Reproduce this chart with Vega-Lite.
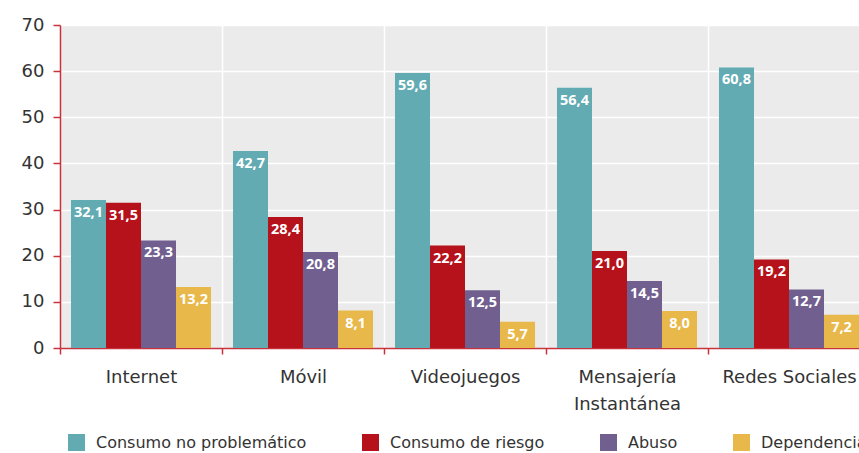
{
  "$schema": "https://vega.github.io/schema/vega-lite/v6.json",
  "autosize": "none",
  "width": 810,
  "height": 323,
  "padding": {"left": 60, "top": 25, "right": 0, "bottom": 105},
  "background": "#ffffff",
  "config": {
    "font": "DejaVu Sans",
    "view": {"fill": "#EAEBEA", "stroke": null},
    "locale": {"number": {"decimal": ",", "thousands": ".", "grouping": [3], "currency": ["", " €"]}}
  },
  "data": {
    "values": [
      {"cat": "Internet", "serie": "Consumo no problemático", "v": 32.1},
      {"cat": "Internet", "serie": "Consumo de riesgo", "v": 31.5},
      {"cat": "Internet", "serie": "Abuso", "v": 23.3},
      {"cat": "Internet", "serie": "Dependencia", "v": 13.2},
      {"cat": "Móvil", "serie": "Consumo no problemático", "v": 42.7},
      {"cat": "Móvil", "serie": "Consumo de riesgo", "v": 28.4},
      {"cat": "Móvil", "serie": "Abuso", "v": 20.8},
      {"cat": "Móvil", "serie": "Dependencia", "v": 8.1},
      {"cat": "Videojuegos", "serie": "Consumo no problemático", "v": 59.6},
      {"cat": "Videojuegos", "serie": "Consumo de riesgo", "v": 22.2},
      {"cat": "Videojuegos", "serie": "Abuso", "v": 12.5},
      {"cat": "Videojuegos", "serie": "Dependencia", "v": 5.7},
      {"cat": "Mensajería Instantánea", "serie": "Consumo no problemático", "v": 56.4},
      {"cat": "Mensajería Instantánea", "serie": "Consumo de riesgo", "v": 21.0},
      {"cat": "Mensajería Instantánea", "serie": "Abuso", "v": 14.5},
      {"cat": "Mensajería Instantánea", "serie": "Dependencia", "v": 8.0},
      {"cat": "Redes Sociales", "serie": "Consumo no problemático", "v": 60.8},
      {"cat": "Redes Sociales", "serie": "Consumo de riesgo", "v": 19.2},
      {"cat": "Redes Sociales", "serie": "Abuso", "v": 12.7},
      {"cat": "Redes Sociales", "serie": "Dependencia", "v": 7.2}
    ]
  },
  "encoding": {
    "x": {
      "field": "cat", "type": "nominal", "sort": null, "title": null,
      "scale": {"paddingInner": 0, "paddingOuter": 0},
      "axis": {
        "labelAngle": 0, "domainColor": "#C8323C", "domainWidth": 1.5,
        "tickColor": "#C8323C", "tickWidth": 1.5, "tickSize": 6, "tickBand": "extent",
        "grid": true, "gridColor": "#ffffff", "gridWidth": 1.5,
        "labelFontSize": 18, "labelColor": "#333333", "labelPadding": 14,
        "labelLineHeight": 27, "labelLimit": 0,
        "labelExpr": "datum.value == 'Mensajería Instantánea' ? ['Mensajería', 'Instantánea'] : datum.value"
      }
    },
    "xOffset": {
      "field": "serie", "type": "nominal", "sort": ["Consumo no problemático", "Consumo de riesgo", "Abuso", "Dependencia"],
      "scale": {"paddingInner": 0, "paddingOuter": 0.314}
    },
    "y": {
      "field": "v", "type": "quantitative", "title": null,
      "scale": {"domain": [0, 70]},
      "axis": {
        "values": [0, 10, 20, 30, 40, 50, 60, 70],
        "domainColor": "#C8323C", "domainWidth": 1.5,
        "tickColor": "#C8323C", "tickWidth": 1.5, "tickSize": 7,
        "grid": true, "gridColor": "#ffffff", "gridWidth": 1.5,
        "labelFontSize": 18, "labelColor": "#333333", "labelPadding": 9
      }
    }
  },
  "layer": [
    {
      "mark": {"type": "bar"},
      "encoding": {
        "color": {
          "field": "serie", "type": "nominal",
          "sort": ["Consumo no problemático", "Consumo de riesgo", "Abuso", "Dependencia"],
          "scale": {"domain": ["Consumo no problemático", "Consumo de riesgo", "Abuso", "Dependencia"], "range": ["#62ABB3", "#B5121B", "#71608F", "#E8B84A"]},
          "legend": {
            "title": null, "orient": "none", "direction": "horizontal",
            "legendX": 8, "legendY": 409,
            "symbolType": "square", "symbolSize": 289, "symbolStrokeWidth": 0,
            "labelFontSize": 16, "labelColor": "#333333", "labelOffset": 11,
            "labelLimit": 0, "columnPadding": 55
          }
        }
      }
    },
    {
      "mark": {"type": "text", "baseline": "top", "dy": 6, "color": "#ffffff", "fontWeight": "bold", "fontSize": 14.5, "font": "Open Sans"},
      "encoding": {
        "text": {"field": "v", "type": "quantitative", "format": ".1f"}
      }
    }
  ]
}
